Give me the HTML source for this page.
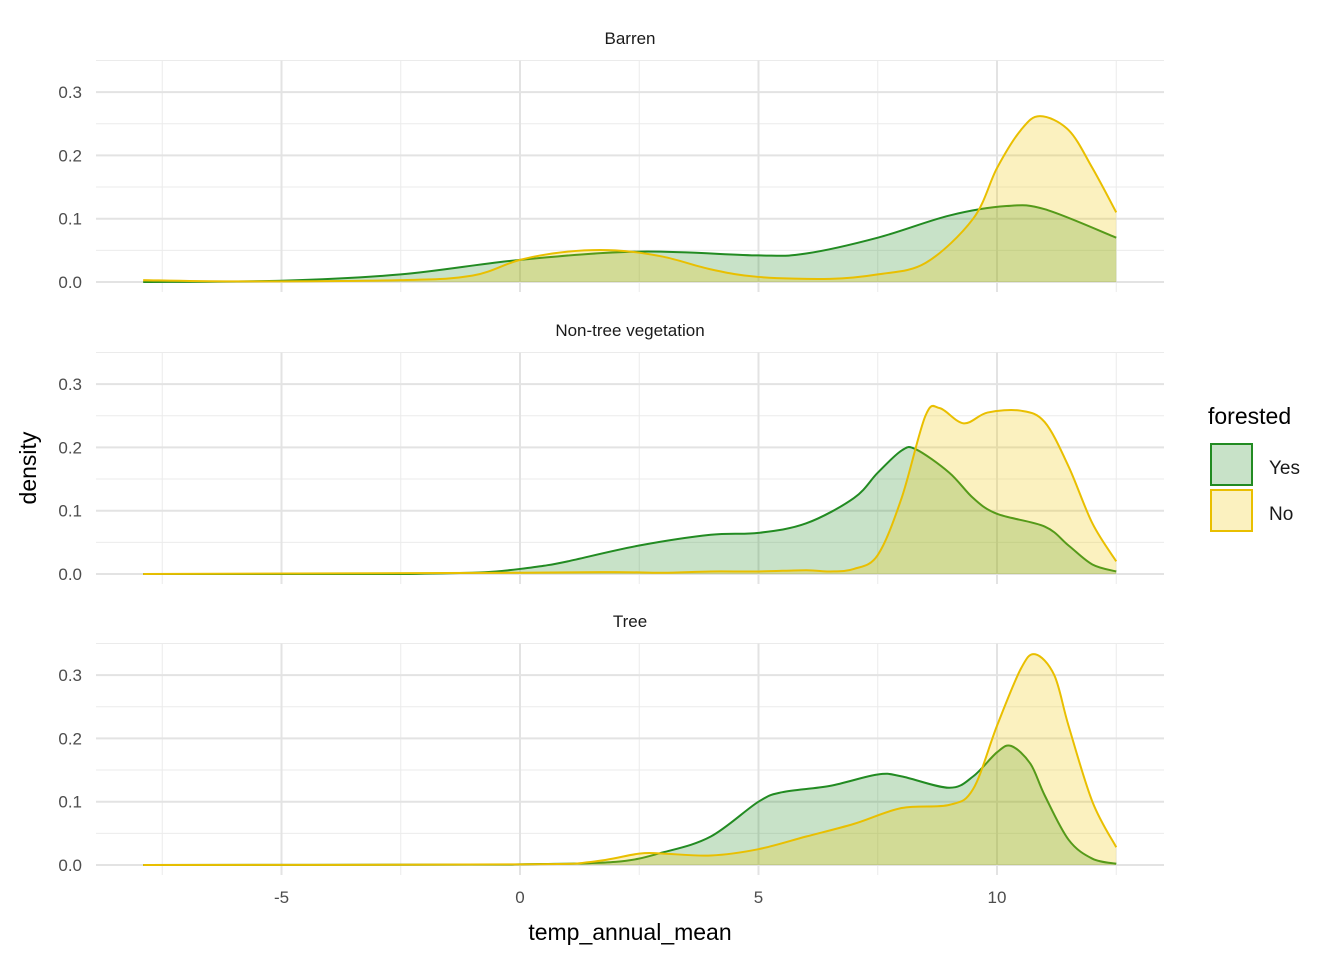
<!DOCTYPE html>
<html><head><meta charset="utf-8"><style>
body{margin:0;background:#fff;}
svg text{font-family:"Liberation Sans",Arial,sans-serif;}
</style></head><body>
<svg id="chart" width="1344" height="960" xmlns="http://www.w3.org/2000/svg"></svg>
<script>
const panels = ["Barren","Non-tree vegetation","Tree"];
const xTicks = [-5,0,5,10];
const yTicks = [0,0.1,0.2,0.3];
const barrenYesX = [-7.9,-5,-2.5,0,2.5,5,6,7.5,9,10.2,11,12.5];
const barrenYesY = [0,0.002,0.012,0.035,0.048,0.042,0.045,0.07,0.105,0.12,0.115,0.07];
const barrenNoX = [-7.9,-6,-2.5,-1,0,1,2,3,4,5,6.5,7.5,8.5,9.5,10,10.5,10.9,11.5,12,12.5];
const barrenNoY = [0.003,0.001,0.003,0.01,0.035,0.048,0.05,0.04,0.02,0.008,0.005,0.012,0.03,0.1,0.18,0.24,0.262,0.24,0.18,0.11];
const nontreeYesX = [-7.9,-3,-2,-1,-0.5,0,0.5,1,2.5,4,5,6,7,7.5,8,8.3,9,9.5,10,11,11.5,12,12.5];
const nontreeYesY = [0,0,0.0005,0.002,0.004,0.008,0.013,0.02,0.045,0.062,0.065,0.08,0.12,0.16,0.195,0.197,0.16,0.12,0.095,0.075,0.045,0.015,0.004];
const nontreeNoX = [-7.9,0,2,3,4,5,6,6.5,7,7.5,8,8.5,8.8,9.3,9.8,10.5,11,11.5,12,12.5];
const nontreeNoY = [0,0.002,0.003,0.002,0.004,0.004,0.006,0.004,0.008,0.03,0.12,0.25,0.262,0.238,0.255,0.258,0.24,0.17,0.08,0.02];
const treeYesX = [-7.9,-1,0,2,3,4,5,5.5,6.5,7.5,8,9,9.5,10,10.3,10.7,11,11.5,12,12.5];
const treeYesY = [0,0.0005,0.001,0.005,0.02,0.045,0.1,0.115,0.125,0.143,0.14,0.122,0.14,0.178,0.188,0.16,0.11,0.04,0.01,0.002];
const treeNoX = [-7.9,0,1.5,2.5,3,4,5,6,7,8,9,9.5,10,10.5,10.8,11.2,11.5,12,12.5];
const treeNoY = [0,0.001,0.005,0.018,0.018,0.015,0.025,0.045,0.065,0.09,0.095,0.12,0.22,0.31,0.333,0.3,0.22,0.1,0.028];

const series = [
 [[barrenYesX,barrenYesY],[barrenNoX,barrenNoY]],
 [[nontreeYesX,nontreeYesY],[nontreeNoX,nontreeNoY]],
 [[treeYesX,treeYesY],[treeNoX,treeNoY]]
];
const baselines=[282,574,865];
const NS="http://www.w3.org/2000/svg";
const svg=document.getElementById('chart');
const xs=v=>520+v*47.7;
function mk(tag,attrs,parent){const e=document.createElementNS(NS,tag);for(const k in attrs)e.setAttribute(k,attrs[k]);(parent||svg).appendChild(e);return e;}
function curve(X,Y,ys){
  const p=X.map((x,i)=>[xs(x),ys(Y[i])]);
  let d=`M${p[0][0]},${p[0][1]}`;
  for(let i=0;i<p.length-1;i++){
    const p0=p[i-1]||p[i],p1=p[i],p2=p[i+1],p3=p[i+2]||p2;
    const c1=[p1[0]+(p2[0]-p0[0])/6,p1[1]+(p2[1]-p0[1])/6];
    const c2=[p2[0]-(p3[0]-p1[0])/6,p2[1]-(p3[1]-p1[1])/6];
    d+=` C${c1[0]},${c1[1]} ${c2[0]},${c2[1]} ${p2[0]},${p2[1]}`;
  }
  return {d,first:p[0],last:p[p.length-1]};
}
const cols=[{line:"#228B22",fill:"rgba(34,139,34,0.25)"},{line:"#E9BF00",fill:"rgba(238,201,0,0.25)"}];
panels.forEach((name,pi)=>{
  const b=baselines[pi];
  const ys=v=>b-v*633;
  const g=mk('g',{});
  
  
  [0.05,0.15,0.25,0.35].forEach(v=>{const l=mk('line',{x1:96,x2:1164,y1:ys(v),y2:ys(v),stroke:"#ebebeb","stroke-width":1},g);});
  [-7.5,-2.5,2.5,7.5,12.5].forEach(v=>{const l=mk('line',{x1:xs(v),x2:xs(v),y1:ys(0.35),y2:b+10,stroke:"#ebebeb","stroke-width":1},g);});
  yTicks.forEach(v=>{const l=mk('line',{x1:96,x2:1164,y1:ys(v),y2:ys(v),stroke:"#e3e3e3","stroke-width":2},g);
    const t=mk('text',{x:82,y:ys(v)+6,"text-anchor":"end","font-size":17,fill:"#4d4d4d"},g);t.textContent=v.toFixed(1);});
  xTicks.forEach(v=>{const l=mk('line',{x1:xs(v),x2:xs(v),y1:ys(0.35),y2:b+10,stroke:"#e3e3e3","stroke-width":2},g);});
  const st=mk('text',{x:630,y:b-238,"text-anchor":"middle","font-size":17,fill:"#1a1a1a"},g);st.textContent=name;
  
  series[pi].forEach((s,si)=>{
    const c=curve(s[0],s[1],ys);
    const f=mk('path',{d:c.d+` L${c.last[0]},${b} L${c.first[0]},${b} Z`,fill:cols[si].fill,stroke:"none"},g);
    
    const l=mk('path',{d:c.d,fill:"none",stroke:cols[si].line,"stroke-width":2},g);
    
  });
  if(pi===2){xTicks.forEach(v=>{const t=mk('text',{x:xs(v),y:b+38,"text-anchor":"middle","font-size":17,fill:"#4d4d4d"},g);t.textContent=String(v);});}
});
let t=mk('text',{x:630,y:940,"text-anchor":"middle","font-size":23,fill:"#000"});t.textContent="temp_annual_mean";

t=mk('text',{x:36,y:468,"text-anchor":"middle","font-size":23,fill:"#000",transform:"rotate(-90 36 468)"});t.textContent="density";

t=mk('text',{x:1208,y:424,"font-size":23,fill:"#000"});t.textContent="forested";

["Yes","No"].forEach((n,i)=>{
  const g=mk('g',{});
  mk('rect',{x:1211,y:444+i*46,width:41,height:41,fill:"#fff"},g);
  mk('rect',{x:1211,y:444+i*46,width:41,height:41,fill:cols[i].fill,stroke:cols[i].line,"stroke-width":2},g);
  const tt=mk('text',{x:1269,y:474+i*46,"font-size":19,fill:"#1a1a1a"},g);tt.textContent=n;
});
</script>
</body></html>
